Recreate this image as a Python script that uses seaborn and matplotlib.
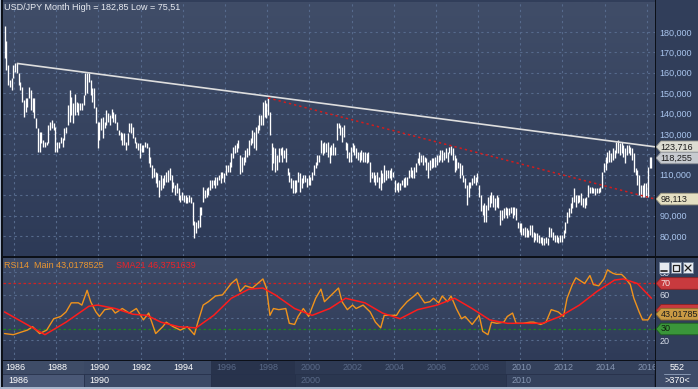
import numpy as np
import pandas as pd
import matplotlib
matplotlib.use("Agg")
import matplotlib.pyplot as plt
import seaborn as sns
from matplotlib.colors import LinearSegmentedColormap
from matplotlib.patches import Rectangle, Polygon
from matplotlib.lines import Line2D
from matplotlib.ticker import FuncFormatter

# monthly bars, Jan 1986 .. Dec 2016 (bar index 0 = Jan 1986)
high_86_93 = [182.85, 175.6, 163.8, 156.5, 157.3, 163.8, 164.6, 164.6, 159.8, 155.7,
              153.2, 146.7, 147.5, 147.5, 153.2, 151.6, 147.5, 147.5, 137.7, 132.8,
              131.2, 131.2, 127.0, 126.2, 126.2, 134.4, 136.0, 136.9, 135.2, 133.6,
              126.2, 126.2, 128.7, 127.9, 132.8, 133.6, 144.2, 151.6, 148.3, 145.0,
              149.4, 145.8, 145.0, 145.0, 145.0, 149.0, 159.7, 159.7, 159.7, 156.5,
              152.4, 152.4, 143.4, 136.0, 136.0, 137.7, 138.5, 136.0, 141.8, 140.2,
              139.3, 142.3, 141.0, 139.6, 136.0, 131.9, 131.2, 130.3, 130.3, 126.2,
              130.3, 135.2, 135.2, 133.6, 128.7, 126.2, 125.4, 125.4, 124.6, 124.6,
              126.2, 125.4, 123.8, 118.9, 114.8, 113.2, 111.5, 110.7, 107.5, 110.0,
              108.3, 110.0, 111.5]
low_86_93 = [167.4, 161.4, 154.0, 153.2, 151.6, 157.3, 160.6, 159.8, 154.0, 151.6,
             145.5, 138.5, 141.0, 143.4, 147.5, 141.8, 141.0, 137.7, 132.8, 121.3,
             121.3, 125.4, 123.8, 123.8, 124.6, 125.4, 131.9, 132.8, 131.9, 121.3,
             121.3, 123.0, 125.4, 123.8, 127.0, 130.3, 134.4, 136.0, 139.3, 135.2,
             139.3, 141.0, 139.3, 141.8, 141.8, 144.2, 149.0, 149.9, 155.7, 149.0,
             145.8, 142.6, 135.2, 123.3, 127.0, 131.9, 127.9, 132.8, 134.4, 136.0,
             134.4, 137.7, 136.0, 135.2, 131.9, 129.5, 127.0, 124.6, 124.6, 122.1,
             124.6, 131.1, 130.3, 127.9, 125.4, 123.0, 122.1, 118.0, 121.3, 121.3,
             123.8, 123.0, 115.6, 114.0, 108.4, 109.1, 105.8, 104.2, 99.3, 102.5,
             103.4, 105.0, 106.6]

high_94_01 = [112.4, 113.2, 110.0, 106.6, 105.0, 105.8, 103.4, 100.0, 101.7, 100.0,
              100.1, 99.3, 100.0, 99.3, 96.8, 87.4, 87.0, 87.8, 94.4, 94.4,
              104.2, 102.5, 103.4, 104.2, 107.5, 107.5, 107.5, 109.1, 109.1, 110.0,
              111.5, 111.5, 110.7, 114.8, 114.8, 116.4, 120.5, 123.8, 124.6, 125.4,
              127.0, 119.7, 118.9, 118.9, 122.1, 123.0, 127.0, 127.9, 132.0, 131.2,
              133.6, 134.4, 139.3, 139.3, 145.8, 146.7, 145.0, 147.7, 141.0, 125.4,
              123.8, 123.0, 119.7, 123.0, 123.0, 123.8, 122.1, 123.0, 113.2, 111.5,
              108.3, 107.5, 107.5, 107.5, 111.5, 110.7, 108.3, 110.0, 110.0, 108.3,
              110.0, 109.1, 111.5, 114.8, 116.4, 119.7, 119.7, 127.0, 125.4, 126.2,
              125.4, 126.2, 123.8, 124.6, 125.4, 123.8]
low_94_01 = [106.6, 107.5, 101.7, 103.4, 100.2, 100.9, 97.6, 96.8, 97.6, 96.8,
             96.0, 96.0, 96.8, 96.0, 85.4, 79.2, 81.3, 83.8, 84.6, 90.3,
             96.8, 98.5, 99.3, 100.1, 102.5, 103.4, 105.0, 103.4, 105.0, 107.5,
             105.8, 108.3, 106.6, 110.0, 111.5, 111.5, 114.0, 118.0, 120.5, 121.3,
             122.9, 110.2, 111.5, 114.8, 116.4, 118.9, 119.7, 124.6, 125.4, 123.0,
             122.1, 130.3, 132.0, 134.4, 134.4, 138.5, 137.7, 139.3, 129.5, 112.4,
             115.6, 111.5, 112.4, 116.4, 119.7, 116.4, 118.0, 116.4, 110.0, 106.6,
             103.4, 100.9, 100.9, 101.7, 106.6, 101.7, 103.4, 105.8, 106.6, 104.2,
             105.0, 105.0, 107.5, 110.0, 113.2, 114.8, 116.4, 120.5, 119.7, 120.5,
             121.3, 118.9, 115.6, 119.7, 119.7, 119.7]

high_02_08 = [135.2, 135.2, 134.4, 133.6, 134.4, 126.2, 125.4, 121.3, 123.8, 125.4,
              124.6, 123.0, 121.3, 121.3, 122.1, 121.3, 121.3, 120.5, 121.3, 116.4,
              111.5, 111.5, 110.0, 111.5, 109.1, 112.4, 110.7, 114.8, 112.4, 112.4,
              112.4, 113.2, 111.5, 107.5, 105.8, 106.6, 105.8, 107.5, 108.3, 109.1,
              109.1, 112.4, 114.0, 112.4, 114.0, 115.6, 118.0, 121.3, 119.7, 119.7,
              118.9, 118.0, 116.4, 117.2, 118.0, 118.0, 118.9, 119.7, 119.7, 122.1,
              122.1, 121.3, 123.0, 121.3, 123.8, 124.1, 123.0, 119.7, 118.0, 116.4,
              115.6, 114.8, 110.0, 108.3, 105.0, 106.6, 106.6, 108.3, 110.0, 109.1,
              110.7, 105.0, 100.2, 95.2, 96.0, 95.2, 99.3, 100.0, 101.7, 100.0,
              98.5, 100.0, 99.3]
low_02_08 = [127.0, 132.8, 129.5, 126.2, 128.7, 122.1, 118.0, 116.4, 116.4, 121.3,
             119.7, 118.0, 117.2, 116.4, 117.2, 116.4, 116.4, 115.6, 116.4, 106.6,
             108.3, 106.6, 105.0, 106.6, 103.4, 102.5, 105.8, 106.6, 107.5, 108.3,
             108.3, 107.5, 109.1, 101.7, 102.5, 101.7, 102.5, 105.0, 104.2, 104.2,
             105.0, 108.3, 109.1, 108.3, 108.3, 111.5, 115.6, 114.8, 116.4, 114.8,
             116.4, 112.4, 108.3, 112.4, 113.2, 114.0, 114.0, 114.8, 116.4, 117.2,
             116.4, 117.2, 118.0, 116.4, 120.5, 119.7, 117.2, 111.5, 112.4, 113.2,
             108.3, 110.0, 106.6, 103.4, 95.2, 99.3, 103.4, 105.0, 105.8, 105.0,
             106.6, 99.3, 92.1, 90.3, 87.0, 87.0, 92.9, 94.4, 96.0, 94.4,
             92.9, 94.4, 93.6]

high_09_16 = [92.9, 92.9, 93.6, 94.4, 93.6, 93.6, 94.4, 94.4, 94.4, 93.6,
              87.0, 86.2, 86.2, 83.8, 84.6, 83.8, 83.0, 85.4, 85.4, 82.1,
              81.3, 81.3, 80.5, 79.7, 79.7, 78.9, 79.7, 78.9, 84.6, 83.8,
              82.1, 80.5, 80.5, 79.7, 80.5, 80.5, 83.0, 87.0, 91.9, 93.6,
              96.0, 99.3, 103.4, 100.2, 100.1, 100.1, 100.9, 98.5, 98.5, 99.3,
              105.0, 104.2, 104.2, 103.4, 103.4, 103.4, 103.4, 104.2, 111.5, 115.6,
              118.9, 121.3, 122.1, 120.5, 123.0, 122.1, 126.2, 127.0, 125.4, 126.2,
              124.6, 123.0, 124.6, 124.6, 123.8, 123.0, 120.5, 113.2, 112.4, 110.0,
              105.0, 105.0, 105.8, 105.8, 114.0, 118.9, 118.9]
low_09_16 = [85.4, 87.8, 88.6, 90.3, 88.6, 90.3, 91.1, 88.6, 90.3, 87.8,
             83.8, 82.1, 80.5, 80.5, 79.7, 79.7, 79.7, 80.5, 79.7, 77.1,
             78.0, 77.1, 76.4, 76.4, 75.6, 75.51, 76.4, 75.6, 79.7, 79.7,
             78.0, 77.2, 77.2, 76.4, 77.2, 77.2, 79.0, 81.3, 86.2, 89.5,
             91.1, 93.6, 96.8, 94.4, 96.0, 96.8, 95.2, 94.4, 93.6, 95.2,
             99.3, 100.9, 100.9, 100.9, 100.1, 100.9, 100.9, 101.7, 103.4, 111.5,
             112.4, 115.6, 116.4, 116.4, 117.2, 118.0, 120.5, 120.5, 119.7, 120.5,
             118.9, 115.6, 119.7, 120.5, 119.7, 117.2, 111.5, 110.0, 105.0, 100.1,
             99.3, 99.3, 99.3, 99.3, 99.3, 113.2, 113.2]

last_close = 118.255

# trend lines: two anchor points each (bar index, price), drawn as rays
white_trend = [(7, 164.6), (150, 148.495)]
red_trend = [(150, 147.7), (255, 124.036)]

# RSI(14) readings and its SMA(21), by bar index
rsi_month = [0, 5, 13, 16, 20, 24, 28, 32, 35, 38, 42, 44, 47, 49, 52, 54, 57, 61, 63, 67,
             71, 75, 79, 82, 86, 90, 92, 96, 100, 104, 108, 110, 113, 116, 120, 124, 127, 129,
             132, 134, 137, 141, 144, 147, 149, 151, 153, 156, 160, 162, 165, 167, 170, 173,
             177, 180, 182, 186, 190, 192, 195, 198, 200, 204, 208, 211, 214, 216, 220, 223,
             225, 229, 233, 235, 239, 242, 244, 247, 249, 252, 254, 257, 260, 262, 266, 270,
             272, 275, 277, 280, 284, 286, 289, 291, 295, 299, 301, 305, 308, 311, 315, 318,
             320, 323, 325, 328, 330, 333, 335, 338, 341, 343, 346, 348, 351, 353, 356, 358,
             361, 363, 366, 368]
rsi_value = [26, 25, 29, 32, 26, 29, 39, 41, 45, 53, 53, 51, 64, 54, 45, 41, 47, 48, 44, 48,
             44, 48, 38, 44, 26, 32, 36, 32, 29, 32, 25, 36, 51, 54, 59, 60, 66, 70,
             74, 63, 68, 66, 70, 74, 66, 42, 48, 47, 48, 35, 34, 41, 48, 41,
             57, 65, 54, 60, 66, 54, 47, 51, 48, 51, 45, 36, 31, 42, 42, 42,
             47, 54, 59, 62, 53, 54, 57, 53, 59, 54, 59, 48, 39, 41, 34, 42,
             28, 25, 36, 35, 36, 41, 44, 35, 35, 36, 36, 34, 36, 47, 45, 41,
             57, 69, 75, 72, 70, 77, 69, 68, 74, 82, 79, 78, 78, 75, 69, 57,
             45, 38, 38, 43.02]
sma_month = [0, 23, 35, 48, 53, 63, 73, 81, 89, 99, 109, 119, 129, 139, 147, 154, 165, 175, 185,
             194, 205, 215, 225, 235, 246, 256, 266, 276, 286, 296, 306, 316, 327, 337, 347,
             352, 360, 368]
sma_value = [45, 25, 36, 50, 51, 48, 43, 42, 36, 32, 31, 42, 57, 65, 66, 60, 48, 42, 48,
             57, 53, 44, 39, 47, 51, 57, 48, 38, 35, 35, 35, 41, 51, 63, 73,
             74, 70, 57]
rsi_levels = [70, 30]
sma_last = 46.375

price_ticks = [80, 90, 100, 110, 120, 130, 140, 150, 160, 170, 180]
price_tick_hidden = [100, 120]      # covered by the price tags on the right
rsi_ticks = [20, 40, 60, 80]
rsi_tick_hidden = [40]
year_labels = [1986, 1988, 1990, 1992, 1994, 1996, 1998, 2000, 2002, 2004, 2006, 2008,
               2010, 2012, 2014, 2016]
decade_labels = [1986, 1990, 2000, 2010]

high = high_86_93 + high_94_01 + high_02_08 + high_09_16
low = low_86_93 + low_94_01 + low_02_08 + low_09_16
bars = pd.DataFrame({"bar": np.arange(len(high)), "high": high, "low": low})
rsi = pd.DataFrame({"bar": rsi_month, "rsi": rsi_value})
sma = pd.DataFrame({"bar": sma_month, "sma": sma_value})

sns.set_theme(style="dark")
plt.rcParams["font.family"] = ["Liberation Sans", "DejaVu Sans"]
FS = 6.5

W, H = 698, 389
fig = plt.figure(figsize=(W / 100, H / 100), dpi=100, facecolor="#313e5a")


def fbox(x0, y0, x1, y1):
    return [x0 / W, 1 - y1 / H, (x1 - x0) / W, (y1 - y0) / H]


def fx(x):
    return x / W


def fy(y):
    return 1 - y / H


PX_PER_BAR = 1.758
FIRST_BAR_PX = 4.5


def bar_from_px(px):
    return (px - FIRST_BAR_PX) / PX_PER_BAR


GRID_C = "#566a8c"
grid_bars = [(y - 1986) * 12 + 5.4 for y in range(1986, 2018, 2)]


def gradient(ax, top, bottom):
    cmap = LinearSegmentedColormap.from_list("bg", [top, bottom])
    ax.imshow(np.linspace(0, 1, 200).reshape(-1, 1), cmap=cmap, aspect="auto",
              extent=[0, 1, 0, 1], transform=ax.transAxes, zorder=0)


def style_axes(ax):
    for s in ax.spines.values():
        s.set_visible(False)
    ax.set_xticks([])
    ax.grid(False)


def comma(v, nd):
    return f"{v:.{nd}f}".replace(".", ",")


# ---------------- price panel ----------------
ax_p = fig.add_axes(fbox(3, 2, 655, 256))
gradient(ax_p, "#404d68", "#2d3a57")
ax_p.set_xlim(bar_from_px(3), bar_from_px(655))
ax_p.set_ylim(70.2, 194.7)
style_axes(ax_p)
for gb in grid_bars:
    ax_p.axvline(gb, color=GRID_C, lw=0.8, ls=(0, (2, 3)), zorder=1)
for t in price_ticks:
    ax_p.axhline(t, color=GRID_C, lw=0.8, ls=(0, (2, 3)), zorder=1)

ax_p.vlines(bars["bar"], bars["low"], bars["high"], color="#ffffff", lw=0.95, zorder=3)

xr = bar_from_px(655)


def ray(points):
    (b0, p0), (b1, p1) = points
    slope = (p1 - p0) / (b1 - b0)
    return [b0, xr], [p0, p0 + slope * (xr - b0)]


wx, wy = ray(white_trend)
ax_p.plot(wx, wy, color="#dedede", lw=1.2, zorder=4, solid_capstyle="butt")
rx, ry = ray(red_trend)
ax_p.plot(rx, ry, color="#d41c1c", lw=1.1, ls=(0, (1.5, 2)), zorder=4)

ax_p.yaxis.tick_right()
ax_p.set_yticks(price_ticks)
ax_p.yaxis.set_major_formatter(
    FuncFormatter(lambda v, p: "" if round(v) in price_tick_hidden else comma(v, 3)))
ax_p.tick_params(axis="y", length=0, pad=3, labelsize=FS, labelcolor="#a9c5ee")

ax_p.text(1 / 652, 1 - 6 / 254, "USD/JPY Month High = 182,85 Low = 75,51",
          transform=ax_p.transAxes, ha="left", va="center", fontsize=FS, color="#e8ebf2")


def tag(ax, value, label, fc, tc, ec):
    disp = ax.transData.transform((0, value))
    ypx = H - disp[1]
    h = 5.8
    poly = Polygon([(fx(656), fy(ypx)), (fx(661), fy(ypx - h)), (fx(700), fy(ypx - h)),
                    (fx(700), fy(ypx + h)), (fx(661), fy(ypx + h))],
                   closed=True, transform=fig.transFigure, fc=fc, ec=ec, lw=0.6, zorder=10)
    fig.add_artist(poly)
    if label:
        fig.text(fx(660.5), fy(ypx), label, ha="left", va="center", fontsize=FS, color=tc,
                 zorder=11)


# ---------------- RSI panel ----------------
ax_r = fig.add_axes(fbox(3, 258, 655, 360))
gradient(ax_r, "#3e4b67", "#2f3b58")
ax_r.set_xlim(bar_from_px(3), bar_from_px(655))
ax_r.set_ylim(2.75, 92.4)
style_axes(ax_r)
for gb in grid_bars:
    ax_r.axvline(gb, color=GRID_C, lw=0.8, ls=(0, (2, 3)), zorder=1)
for t in rsi_ticks:
    ax_r.axhline(t, color=GRID_C, lw=0.8, ls=(0, (2, 3)), zorder=1)
ax_r.axhline(rsi_levels[0], color="#d42020", lw=0.9, ls=(0, (2, 2)), zorder=2)
ax_r.axhline(rsi_levels[1], color="#1c8a1c", lw=0.9, ls=(0, (2, 2)), zorder=2)
sns.lineplot(data=rsi, x="bar", y="rsi", ax=ax_r, color="#f0931c", lw=1.0, zorder=3)
sns.lineplot(data=sma, x="bar", y="sma", ax=ax_r, color="#ff1c1c", lw=1.1, zorder=4)
ax_r.set_xlabel("")
ax_r.set_ylabel("")
ax_r.set_xticks([])
ax_r.yaxis.tick_right()
ax_r.set_yticks(rsi_ticks)
ax_r.yaxis.set_major_formatter(
    FuncFormatter(lambda v, p: "" if round(v) in rsi_tick_hidden else f"{v:.0f}"))
ax_r.tick_params(axis="y", length=0, pad=3, labelsize=FS, labelcolor="#d6dce8")
ax_r.text(1 / 652, 1 - 7 / 102, "RSI14  Main 43,0178525", transform=ax_r.transAxes,
          ha="left", va="center", fontsize=FS, color="#eb9630")
ax_r.text(113 / 652, 1 - 7 / 102, "SMA21 46,3751639", transform=ax_r.transAxes,
          ha="left", va="center", fontsize=FS, color="#ee2228")

# ---------------- time strip ----------------
ax_t = fig.add_axes(fbox(0, 361, 655, 387))
ax_t.set_xlim(bar_from_px(0), bar_from_px(655))
ax_t.set_ylim(0, 2)
style_axes(ax_t)
ax_t.set_yticks([])
ax_t.set_facecolor("#2c3852")
bands = [(1986, 1990, "#3e4c67", "#4a5876", "#ffffff"),
         (1990, 1996, "#3b4965", "#3b4965", "#ffffff"),
         (1996, 2000, "#28334c", "#28334c", "#5a6a88"),
         (2000, 2010, "#2d3953", "#2b3750", "#5a6a88"),
         (2010, 2017, "#34415c", "#34415c", "#8595b1")]
for y0, y1, c_top, c_bot, _ in bands:
    b0 = (y0 - 1986) * 12 - 2.5
    b1 = (y1 - 1986) * 12 - 2.5
    ax_t.add_patch(Rectangle((b0, 1), b1 - b0, 1, fc=c_top, ec="none", zorder=1))
    ax_t.add_patch(Rectangle((b0, 0), b1 - b0, 1, fc=c_bot, ec="#26304a", lw=0.5, zorder=1))


def band_color(year):
    for y0, y1, _, _, tc in bands:
        if y0 <= year < y1:
            return tc
    return "#ffffff"


for yr in year_labels:
    ax_t.text((yr - 1986) * 12 + 0.3, 1.5, str(yr), ha="left", va="center", fontsize=FS,
              color=band_color(yr), zorder=3)
for yr in decade_labels:
    ax_t.text((yr - 1986) * 12 + (2 if yr == 1986 else 0.3), 0.5, str(yr), ha="left",
              va="center", fontsize=FS, color=band_color(yr), zorder=3)

# ---------------- price / level tags ----------------
tag(ax_p, wy[1], comma(wy[1], 3), "#dcdcd2", "#1c1c1c", "#9a9a90")
tag(ax_p, last_close, comma(last_close, 3), "#c6cacf", "#1c1c1c", "#8a8e94")
tag(ax_p, ry[1], comma(ry[1], 3), "#e4dfc2", "#1c1c1c", "#a09c84")
tag(ax_r, rsi_levels[0], "70", "#c83a3e", "#f4e6e6", "#902020")
tag(ax_r, sma_last, "", "#c83a3e", "#1c1c1c", "#902020")
tag(ax_r, rsi_value[-1], "43,01785", "#c99a44", "#1c1c1c", "#8a6a2a")
tag(ax_r, rsi_levels[1], "30", "#3a963a", "#102010", "#1e5e1e")


# ---------------- frame pieces ----------------
def frect(x0, y0, x1, y1, color, z=20):
    fig.add_artist(Rectangle((fx(x0), fy(y1)), fx(x1 - x0), (y1 - y0) / H,
                             transform=fig.transFigure, fc=color, ec="none", zorder=z))


frect(0, 256, W, 258, "#0c1018")
frect(0, 360, W, 361.3, "#0c1018")
frect(655, 0, 656.3, H, "#0c1018")
frect(0, 0, 1.3, H, "#a8b6cc")
frect(1.3, 0, 2.6, H, "#0c1018")
frect(0, 387, W, H, "#a8b6cc")
frect(656.3, 361.3, W, 387, "#3e4c69", z=19)
fig.text(fx(677), fy(367.5), "552", ha="center", va="center", fontsize=FS, color="#ffffff",
         zorder=21)
fig.add_artist(Line2D([fx(664), fx(690)], [fy(373.5), fy(373.5)], transform=fig.transFigure,
                      color="#8797b2", lw=0.7, zorder=21))
fig.text(fx(677), fy(380.5), ">370<", ha="center", va="center", fontsize=FS, color="#ffffff",
         zorder=21)

# window buttons on RSI panel
for i, x0 in enumerate([659, 671, 683]):
    fig.add_artist(Rectangle((fx(x0), fy(273)), fx(10), 11 / H, transform=fig.transFigure,
                             fc="#e6eaf0", ec="#6d7d96", lw=0.6, zorder=22))
    cx = x0 + 5
    if i == 0:
        fig.add_artist(Line2D([fx(cx - 3), fx(cx + 3)], [fy(271), fy(271)],
                              transform=fig.transFigure, color="#202020", lw=1.2, zorder=23))
    elif i == 1:
        fig.add_artist(Rectangle((fx(cx - 3), fy(271)), fx(6), 6 / H, transform=fig.transFigure,
                                 fc="none", ec="#202020", lw=0.9, zorder=23))
    else:
        fig.add_artist(Line2D([fx(cx - 3), fx(cx + 3)], [fy(265), fy(271)],
                              transform=fig.transFigure, color="#202020", lw=0.9, zorder=23))
        fig.add_artist(Line2D([fx(cx - 3), fx(cx + 3)], [fy(271), fy(265)],
                              transform=fig.transFigure, color="#202020", lw=0.9, zorder=23))

fig.savefig("out.png", dpi=100, facecolor=fig.get_facecolor())
